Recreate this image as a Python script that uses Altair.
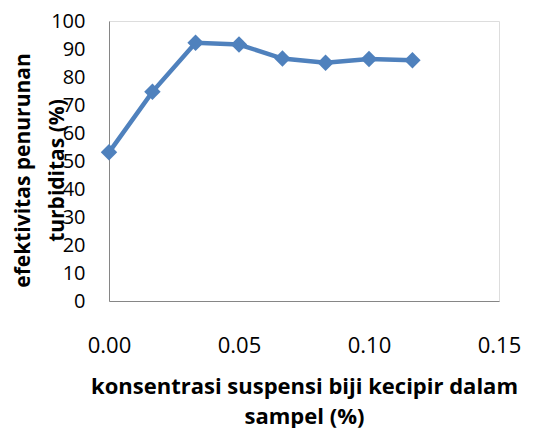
import altair as alt
import pandas as pd

konsentrasi = [0.0, 0.0167, 0.0333, 0.05, 0.0667, 0.0833, 0.1, 0.1167]
efektivitas = [53.1, 74.7, 92.2, 91.6, 86.6, 85.1, 86.4, 86.0]
y_ticks = [0, 10, 20, 30, 40, 50, 60, 70, 80, 90, 100]
x_ticks = [0, 0.05, 0.1, 0.15]

df = pd.DataFrame({"x": konsentrasi, "y": efektivitas})

FONT = "Open Sans"
BLUE = "#4F81BD"

x_enc = alt.X(
    "x:Q",
    scale=alt.Scale(domain=[0, 0.15], nice=False, zero=False),
    axis=alt.Axis(
        values=x_ticks,
        format=".2f",
        ticks=False,
        grid=False,
        domainColor="#868686",
        domainWidth=1,
        labelFont=FONT,
        labelFontSize=22,
        labelColor="black",
        labelPadding=34,
        labelFlush=False,
        labelOverlap=False,
        title=["konsentrasi suspensi biji kecipir dalam", "sampel (%)"],
        titleFont=FONT,
        titleFontSize=22,
        titleFontWeight="bold",
        titleColor="black",
        titleLineHeight=30,
        titleBaseline="alphabetic",
        titleY=92,
    ),
)
y_enc = alt.Y(
    "y:Q",
    scale=alt.Scale(domain=[0, 100], nice=False),
    axis=alt.Axis(
        values=y_ticks,
        format="d",
        ticks=False,
        grid=False,
        domainColor="#868686",
        domainWidth=1,
        labelFont=FONT,
        labelFontSize=20,
        labelColor="black",
        labelPadding=24,
        labelFlush=False,
        labelOverlap=False,
        labelBound=False,
        title=["efektivitas penurunan", "turbiditas (%)"],
        titleFont=FONT,
        titleFontSize=21,
        titleFontWeight="bold",
        titleColor="black",
        titleLineHeight=34,
        titleAngle=270,
        titleAlign="center",
        titleBaseline="bottom",
        titleX=-76,
        titleY=149,
    ),
)

base = alt.Chart(df).encode(x=x_enc, y=y_enc)
line = base.mark_line(color=BLUE, strokeWidth=4.5)
pts = base.mark_point(shape="diamond", filled=True, color=BLUE, size=270, opacity=1)

chart = (
    alt.layer(line, pts)
    .properties(
        width=390,
        height=280,
        autosize=alt.AutoSizeParams(type="none"),
        padding={"left": 101, "top": 13, "right": 31, "bottom": 127},
    )
    .configure_view(stroke=None)
    .configure_axis(labelOverlap=False)
    .configure(background="white")
)

chart.save("out.html", embed_options={"renderer": "svg", "actions": False})
